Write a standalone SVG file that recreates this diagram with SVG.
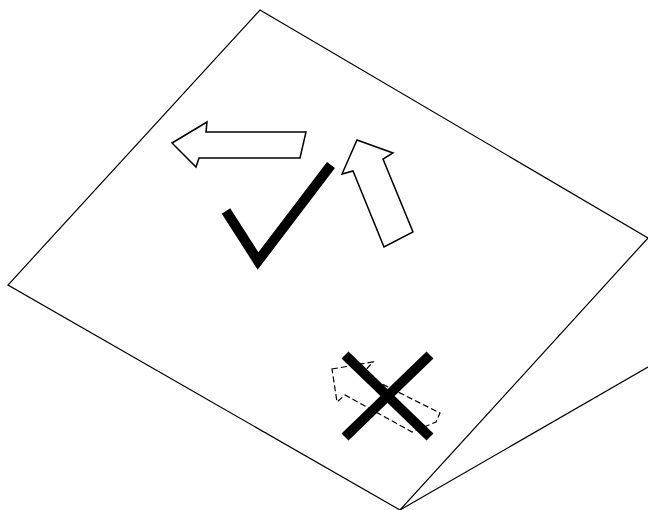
<svg xmlns="http://www.w3.org/2000/svg" width="648" height="510" viewBox="0 0 648 510">
<style>
.ln{fill:none;stroke:#000;stroke-width:1.2}
.ar{fill:#fff;stroke:#000;stroke-width:1.5;stroke-linejoin:miter}
.da{fill:none;stroke:#000;stroke-width:1.2;stroke-dasharray:6,3}
.mk{fill:none;stroke:#000;stroke-width:10;stroke-linecap:butt;stroke-linejoin:miter}
</style>
<rect width="648" height="510" fill="#fff"/>
<g id="plane">
<polygon class="ln" points="260,10 648,238 400,510 8,285"/>
<line class="ln" x1="400" y1="510" x2="648" y2="367"/>
</g>
<g id="arrow-left">
<polygon class="ar" points="172,143 207,122 206,132 306,132 300,158 199,158 196,167"/>
</g>
<g id="arrow-up">
<polygon class="ar" points="357,140 393,153 383,159 413,232 384,247 353,171 342,174"/>
</g>
<g id="check">
<polyline class="mk" points="226,211 258,261 331,165"/>
</g>
<g id="arrow-dashed">
<polygon class="da" points="332,369 373,362 362,374 440,413 436,422 412,432 345,395 337,402"/>
</g>
<g id="cross">
<line class="mk" x1="345" y1="355" x2="430" y2="437"/>
<line class="mk" x1="430" y1="355" x2="345" y2="437"/>
</g>
</svg>
